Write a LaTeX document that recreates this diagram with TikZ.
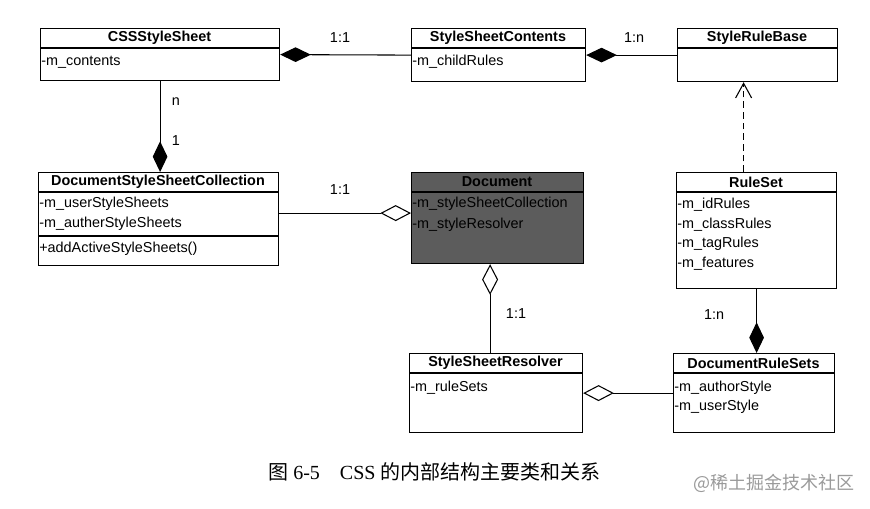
\documentclass[tikz,border=0pt]{standalone}
\usepackage{fontspec}
\setmainfont{Liberation Sans}
\newfontfamily\capserif{Liberation Serif}
\newfontfamily\cjk{Noto Sans CJK SC}
\usetikzlibrary{arrows.meta}
\definecolor{docgray}{HTML}{5C5C5C}
\definecolor{markgray}{HTML}{9A9A9A}
\tikzset{
  classbox/.style 2 args={draw, line width=0.9pt, anchor=north west, inner sep=0pt,
    minimum width=#1*0.75pt, minimum height=#2*0.75pt},
  classname/.style={font=\fontsize{10.8}{13}\selectfont\bfseries, inner sep=0pt},
  attr/.style={font=\fontsize{10.8}{13}\selectfont, anchor=west, inner sep=0pt},
  mult/.style={font=\fontsize{10.8}{13}\selectfont, inner sep=0pt},
  sepline/.style={line width=0.9pt},
  link/.style={line width=0.8pt},
  comp/.style={link, -{Diamond[length=23pt, width=11pt]}},
  aggr/.style={link, -{Diamond[open, length=23pt, width=12pt]}},
  realize/.style={link, dash pattern=on 5pt off 3pt, -{Straight Barb[length=11pt, width=12pt]}},
}
\begin{document}
\begin{tikzpicture}[x=0.75pt, y=-0.75pt]
    \useasboundingbox (0,0) rectangle (870,509);
    % top row
    \node[classbox={239}{52}] (css) at (40,28) {};
    \draw[sepline] (40,48) -- (279,48);
    \node[classname] (cssT) at (159.5,38) {CSSStyleSheet};
    \node[attr] (cssA) at (41,62) {-m\_contents};

    \node[classbox={174}{53}] (ssc) at (411,28) {};
    \draw[sepline] (411,48) -- (585,48);
    \node[classname] (sscT) at (498,38) {StyleSheetContents};
    \node[attr] (sscA) at (412,62) {-m\_childRules};

    \node[classbox={160}{53}] (srb) at (677,28) {};
    \draw[sepline] (677,48) -- (837,48);
    \node[classname] (srbT) at (757,38) {StyleRuleBase};

    % middle row
    \node[classbox={240}{93}] (dssc) at (38,172) {};
    \draw[sepline] (38,192) -- (278,192);
    \draw[sepline] (38,236) -- (278,236);
    \node[classname] (dsscT) at (158,182) {DocumentStyleSheetCollection};
    \node[attr] (dsscA) at (39,204) {-m\_userStyleSheets};
    \node[attr] (dsscB) at (39,224) {-m\_autherStyleSheets};
    \node[attr] (dsscM) at (39,249) {+addActiveStyleSheets()};

    \node[classbox={172}{91}, fill=docgray] (doc) at (411,172) {};
    \draw[sepline] (411,192) -- (583,192);
    \node[classname] (docT) at (497,182) {Document};
    \node[attr] (docA) at (412,204) {-m\_styleSheetCollection};
    \node[attr] (docB) at (412,225) {-m\_styleResolver};

    \node[classbox={160}{116}] (rs) at (676,172) {};
    \draw[sepline] (676,192) -- (836,192);
    \node[classname] (rsT) at (756,182) {RuleSet};
    \node[attr] (rsA) at (677,205) {-m\_idRules};
    \node[attr] (rsB) at (677,225) {-m\_classRules};
    \node[attr] (rsC) at (677,244) {-m\_tagRules};
    \node[attr] (rsD) at (677,264) {-m\_features};

    % bottom row
    \node[classbox={173}{79}] (ssr) at (409,353) {};
    \draw[sepline] (409,373) -- (582,373);
    \node[classname] (ssrT) at (495.5,363) {StyleSheetResolver};
    \node[attr] (ssrA) at (410,388) {-m\_ruleSets};

    \node[classbox={161}{79}] (drs) at (673,353) {};
    \draw[sepline] (673,373) -- (834,373);
    \node[classname] (drsT) at (753.5,363) {DocumentRuleSets};
    \node[attr] (drsA) at (674,388) {-m\_authorStyle};
    \node[attr] (drsB) at (674,407) {-m\_userStyle};

    % relations
    \draw[comp] (ssc.west) -- (css.east);
    \draw[comp] (srb.west) -- (ssc.east);
    \draw[comp] (css.south) -- (dssc.north -| css.south);
    \draw[aggr] ([yshift=4.5pt]dssc.east) -- ([yshift=4.5pt]dssc.east -| doc.west);
    \draw[aggr] ([xshift=-4.5pt]ssr.north) -- ([xshift=-4.5pt]ssr.north |- doc.south);
    \draw[realize] ([xshift=-9.75pt]rs.north) -- ([xshift=-9.75pt]rs.north |- srb.south);
    \draw[comp] (rs.south) -- (rs.south |- drs.north);
    \draw[aggr] (drs.west) -- (ssr.east);

    % multiplicities
    \node[mult] (m1) at (340,38) {1:1};
    \node[mult] (m2) at (634,38) {1:n};
    \node[mult] (m3) at (176,102) {n};
    \node[mult] (m4) at (176,141) {1};
    \node[mult] (m5) at (340,190) {1:1};
    \node[mult] (m6) at (516,314) {1:1};
    \node[mult] (m7) at (714,315) {1:n};

    % caption
    \node[font=\fontsize{15}{18}\selectfont\capserif, anchor=west, inner sep=0pt] (caption)
      at (268,472) {{\cjk 图} 6-5\hspace{15pt}CSS {\cjk 的内部结构主要类和关系}};
    \node[font=\fontsize{13.5}{16}\selectfont\cjk, text=markgray, anchor=west, inner sep=0pt] (mark)
      at (693,483) {@稀土掘金技术社区};
\end{tikzpicture}
\end{document}
